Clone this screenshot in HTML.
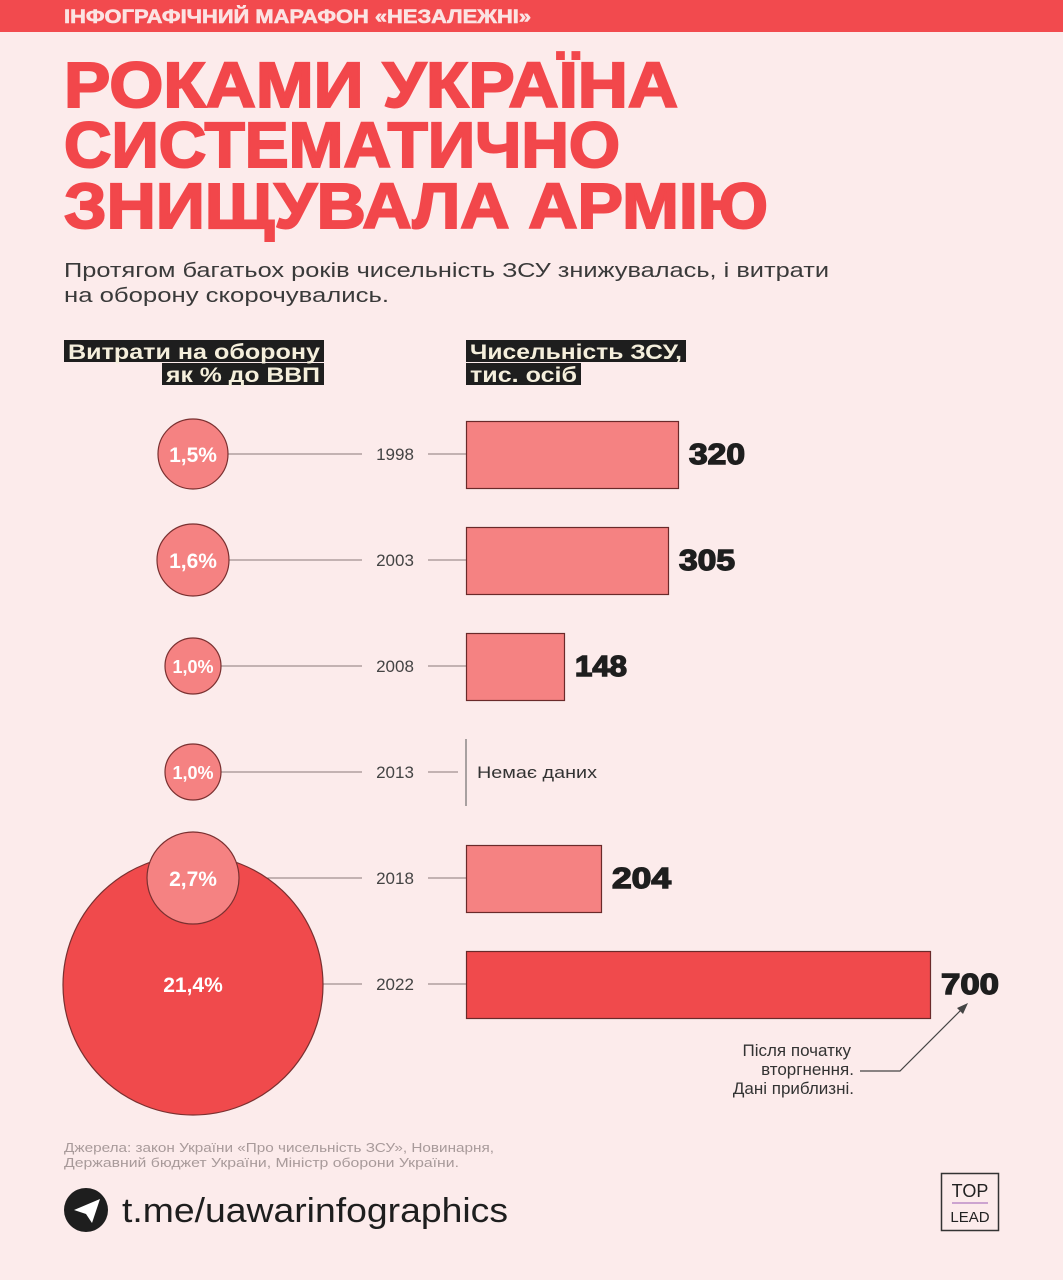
<!DOCTYPE html>
<html><head><meta charset="utf-8"><style>
html,body{margin:0;padding:0;background:#fcebeb}
svg{display:block}
text{font-family:"Liberation Sans","DejaVu Sans",sans-serif}
</style></head><body>
<svg width="1063" height="1280" viewBox="0 0 1063 1280" xmlns="http://www.w3.org/2000/svg">
<rect width="1063" height="1280" fill="#fcebeb"/>
<rect width="1063" height="32" fill="#f24a4e"/>
<text x="64" y="23" font-size="19" font-weight="bold" fill="#fbe3e3" textLength="467" lengthAdjust="spacingAndGlyphs" stroke="#fbe3e3" stroke-width="0.6">ІНФОГРАФІЧНИЙ МАРАФОН «НЕЗАЛЕЖНІ»</text>
<g fill="#f2474b" font-weight="900" font-size="64">
<text x="64" y="107" textLength="614" lengthAdjust="spacingAndGlyphs" stroke="#f2474b" stroke-width="2">РОКАМИ УКРАЇНА</text>
<text x="64" y="167" textLength="556" lengthAdjust="spacingAndGlyphs" stroke="#f2474b" stroke-width="2">СИСТЕМАТИЧНО</text>
<text x="64" y="228" textLength="704" lengthAdjust="spacingAndGlyphs" stroke="#f2474b" stroke-width="2">ЗНИЩУВАЛА АРМІЮ</text>
</g>
<g fill="#3a3a3a" font-size="20">
<text x="64" y="277" textLength="765" lengthAdjust="spacingAndGlyphs">Протягом багатьох років чисельність ЗСУ знижувалась, і витрати</text>
<text x="64" y="302" textLength="325" lengthAdjust="spacingAndGlyphs">на оборону скорочувались.</text>
</g>
<g fill="#1e1e1e">
<rect x="64" y="340" width="260" height="22"/><rect x="162" y="363" width="162" height="22"/>
<rect x="466" y="340" width="220" height="22"/><rect x="466" y="363" width="115" height="22"/>
</g>
<g fill="#f5efdc" font-size="21" font-weight="bold">
<text x="68" y="359" textLength="252" lengthAdjust="spacingAndGlyphs">Витрати на оборону</text>
<text x="166" y="382" textLength="154" lengthAdjust="spacingAndGlyphs">як % до ВВП</text>
<text x="470" y="359" textLength="212" lengthAdjust="spacingAndGlyphs">Чисельність ЗСУ,</text>
<text x="470" y="382" textLength="107" lengthAdjust="spacingAndGlyphs">тис. осіб</text>
</g>
<g stroke="#8a7a7a" stroke-width="1">
<line x1="228" y1="454" x2="362" y2="454"/><line x1="428" y1="454" x2="466" y2="454"/>
<line x1="229" y1="560" x2="362" y2="560"/><line x1="428" y1="560" x2="466" y2="560"/>
<line x1="221" y1="666" x2="362" y2="666"/><line x1="428" y1="666" x2="466" y2="666"/>
<line x1="221" y1="772" x2="362" y2="772"/><line x1="428" y1="772" x2="458" y2="772"/>
<line x1="239" y1="878" x2="362" y2="878"/><line x1="428" y1="878" x2="466" y2="878"/>
<line x1="323" y1="984" x2="362" y2="984"/><line x1="428" y1="984" x2="466" y2="984"/>
<line x1="466" y1="739" x2="466" y2="806" stroke="#555"/>
</g>
<g fill="#444" font-size="17" text-anchor="middle">
<text x="395" y="460">1998</text><text x="395" y="566">2003</text><text x="395" y="672">2008</text>
<text x="395" y="778">2013</text><text x="395" y="884">2018</text><text x="395" y="990">2022</text>
</g>
<g stroke="#7a3030" stroke-width="1.2">
<circle cx="193" cy="454" r="35" fill="#f58282"/>
<circle cx="193" cy="560" r="36" fill="#f58282"/>
<circle cx="193" cy="666" r="28" fill="#f58282"/>
<circle cx="193" cy="772" r="28" fill="#f58282"/>
<circle cx="193" cy="985" r="130" fill="#f04a4c"/>
<circle cx="193" cy="878" r="46" fill="#f58282"/>
</g>
<g fill="#fff" font-weight="bold" text-anchor="middle">
<text x="193" y="462" font-size="21">1,5%</text>
<text x="193" y="568" font-size="21">1,6%</text>
<text x="193" y="673" font-size="18">1,0%</text>
<text x="193" y="779" font-size="18">1,0%</text>
<text x="193" y="886" font-size="21">2,7%</text>
<text x="193" y="992" font-size="21">21,4%</text>
</g>
<g stroke="#6a2a2a" stroke-width="1.2">
<rect x="466.5" y="421.5" width="212" height="67" fill="#f58282"/>
<rect x="466.5" y="527.5" width="202" height="67" fill="#f58282"/>
<rect x="466.5" y="633.5" width="98" height="67" fill="#f58282"/>
<rect x="466.5" y="845.5" width="135" height="67" fill="#f58282"/>
<rect x="466.5" y="951.5" width="464" height="67" fill="#f04a4c"/>
</g>
<g fill="#1e1e1e" font-size="29" font-weight="900" stroke="#1e1e1e" stroke-width="1.4">
<text x="689" y="464" textLength="56" lengthAdjust="spacingAndGlyphs">320</text>
<text x="679" y="570" textLength="56" lengthAdjust="spacingAndGlyphs">305</text>
<text x="575" y="676" textLength="52" lengthAdjust="spacingAndGlyphs">148</text>
<text x="612" y="888" textLength="59" lengthAdjust="spacingAndGlyphs">204</text>
<text x="941" y="994" textLength="58" lengthAdjust="spacingAndGlyphs">700</text>
</g>
<text x="477" y="778" font-size="17" fill="#333" textLength="120" lengthAdjust="spacingAndGlyphs">Немає даних</text>
<g fill="#333" font-size="17" text-anchor="end">
<text x="851" y="1056">Після початку</text>
<text x="854" y="1075">вторгнення.</text>
<text x="854" y="1094">Дані приблизні.</text>
</g>
<polyline points="860,1071 900,1071 964,1007" fill="none" stroke="#444" stroke-width="1.2"/>
<polygon points="968,1003 957,1008 963,1014" fill="#444"/>
<g fill="#a89a9a" font-size="13">
<text x="64" y="1152" textLength="430" lengthAdjust="spacingAndGlyphs">Джерела: закон України «Про чисельність ЗСУ», Новинарня,</text>
<text x="64" y="1167" textLength="395" lengthAdjust="spacingAndGlyphs">Державний бюджет України, Міністр оборони України.</text>
</g>
<circle cx="86" cy="1210" r="22" fill="#1e1e1e"/>
<polygon points="74,1210 100,1199 92,1223 86,1214" fill="#fff"/>
<text x="122" y="1222" font-size="34" fill="#1e1e1e" textLength="386" lengthAdjust="spacingAndGlyphs">t.me/uawarinfographics</text>
<rect x="941.5" y="1173.5" width="57" height="57" fill="none" stroke="#333" stroke-width="1.5"/>
<text x="970" y="1197" font-size="18" fill="#222" text-anchor="middle">TOP</text>
<line x1="952" y1="1203" x2="988" y2="1203" stroke="#b07ac0" stroke-width="1.2"/>
<text x="970" y="1222" font-size="15" fill="#222" text-anchor="middle">LEAD</text>
</svg>
</body></html>
